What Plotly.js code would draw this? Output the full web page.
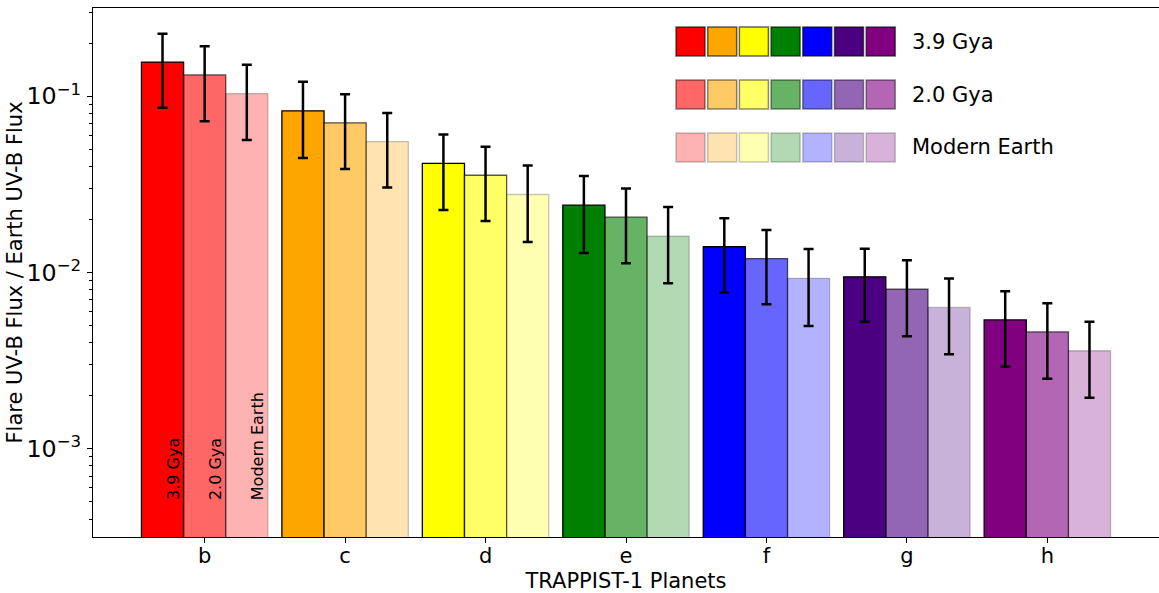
<!DOCTYPE html>
<html>
<head>
<meta charset="utf-8">
<script src="https://cdn.plot.ly/plotly-3.0.1.min.js"></script>
<style>html,body{margin:0;padding:0;background:#fff;}#chart{width:1159px;height:593px;}</style>
</head>
<body>
<div id="chart"></div>
<script>
// ---- data ----
const planets = ['b', 'c', 'd', 'e', 'f', 'g', 'h'];
const seriesNames = ['3.9 Gya', '2.0 Gya', 'Modern Earth'];
const flux39 = [0.156, 0.0826, 0.0416, 0.0241, 0.0140, 0.00945, 0.00538];
const err39 = [0.070, 0.038, 0.019, 0.0112, 0.0063, 0.0042, 0.00246];
const flux20 = [0.132, 0.0706, 0.0356, 0.0206, 0.0120, 0.00805, 0.00460];
const err20 = [0.060, 0.032, 0.016, 0.0093, 0.0054, 0.0037, 0.0021];
const fluxModern = [0.1035, 0.0553, 0.0277, 0.0161, 0.00927, 0.00634, 0.0036];
const errModern = [0.047, 0.025, 0.0128, 0.0074, 0.0043, 0.0029, 0.00165];
const labelLevel = 5e-4; // y value where the in-bar labels start
const yTitle = 'Flare UV-B Flux / Earth UV-B Flux';
const xTitle = 'TRAPPIST-1 Planets';

// ---- styles ----
const baseColors = [[255,0,0],[255,165,0],[255,255,0],[0,128,0],[0,0,255],[75,0,130],[128,0,128]];
const alphas = [1.0, 0.6, 0.3];
const edgeAlphas = [1.0, 0.65, 0.22];
const legendEdgeAlphas = [0.6, 0.45, 0.22];
const FONT = 'DejaVu Sans, sans-serif';

function rgba(c, a) { return 'rgba(' + c[0] + ',' + c[1] + ',' + c[2] + ',' + a + ')'; }

const values = [flux39, flux20, fluxModern];
const errors = [err39, err20, errModern];

const traces = values.map((v, i) => ({
  type: 'bar',
  name: seriesNames[i],
  x: planets,
  y: v,
  marker: {
    color: baseColors.map(c => rgba(c, alphas[i])),
    line: { color: 'rgba(0,0,0,' + edgeAlphas[i] + ')', width: 1.3 }
  },
  error_y: { type: 'data', array: errors[i], visible: true, color: '#000', thickness: 2.5, width: 5 },
  showlegend: false,
  hoverinfo: 'x+y'
}));

// plot area in pixels
const W = 1159, H = 593;
const M = { l: 93, r: 0, t: 8, b: 56 };
const pw = W - M.l - M.r, ph = H - M.t - M.b;
const px2x = p => (p - M.l) / pw;
const px2y = p => (H - M.b - p) / ph;

// custom legend: squares grid
const shapes = [];
const annotations = [];
const sqLeft = 676, sqSize = 29, sqStep = 31.7, rowTop = 27, rowStep = 53;
alphas.forEach((a, r) => {
  baseColors.forEach((c, k) => {
    const x0 = sqLeft + k * sqStep, y0 = rowTop + r * rowStep;
    shapes.push({
      type: 'rect', xref: 'paper', yref: 'paper',
      x0: px2x(x0), x1: px2x(x0 + sqSize), y0: px2y(y0 + sqSize), y1: px2y(y0),
      fillcolor: rgba(c, a), line: { color: 'rgba(0,0,0,' + legendEdgeAlphas[r] + ')', width: 1.5 }
    });
  });
  annotations.push({
    xref: 'paper', yref: 'paper', x: px2x(910), y: px2y(rowTop + r * rowStep + sqSize / 2),
    xanchor: 'left', yanchor: 'middle', showarrow: false, text: seriesNames[r],
    font: { family: FONT, size: 21, color: '#000' }
  });
});

// in-bar labels on the first planet group
const nSeries = seriesNames.length, groupWidth = 0.9, barW = groupWidth / nSeries;
seriesNames.forEach((name, i) => {
  annotations.push({
    xref: 'x', yref: 'y', x: (i - (nSeries - 1) / 2) * barW, y: Math.log10(labelLevel),
    xanchor: 'left', yanchor: 'bottom', textangle: -90, showarrow: false, text: name,
    font: { family: FONT, size: 16, color: '#000' }
  });
});

// y-axis title (placed as rotated text left of the tick labels)
annotations.push({
  xref: 'paper', yref: 'paper', x: px2x(14), y: 0.5,
  xanchor: 'center', yanchor: 'middle', textangle: -90, showarrow: false, text: yTitle,
  font: { family: FONT, size: 21, color: '#000' }
});

const layout = {
  width: W, height: H,
  margin: M,
  paper_bgcolor: '#fff', plot_bgcolor: '#fff',
  barmode: 'group', bargap: 0.1, bargroupgap: 0,
  font: { family: FONT, size: 21, color: '#000' },
  xaxis: {
    type: 'category', range: [-0.795, 6.795],
    showline: true, linecolor: '#000', linewidth: 1, mirror: true,
    ticks: 'outside', ticklen: 5, tickcolor: '#000', tickwidth: 1,
    ticklabelstandoff: -5,
    showgrid: false, zeroline: false,
    tickfont: { family: FONT, size: 21 },
    title: { text: xTitle, font: { family: FONT, size: 21 }, standoff: 8 }
  },
  yaxis: {
    type: 'log', range: [-3.5, -0.5], dtick: 1, exponentformat: 'power',
    showline: true, linecolor: '#000', linewidth: 1, mirror: false,
    ticks: 'outside', ticklen: 5, tickcolor: '#000', tickwidth: 1,
    ticklabelstandoff: 2,
    minor: { ticks: 'outside', ticklen: 3, tickcolor: '#000', dtick: 'D1', showgrid: false },
    showgrid: false, zeroline: false,
    tickfont: { family: FONT, size: 19 }
  },
  shapes: shapes,
  annotations: annotations,
  showlegend: false
};

Plotly.newPlot('chart', traces, layout, { displayModeBar: false, staticPlot: true });
</script>
</body>
</html>
